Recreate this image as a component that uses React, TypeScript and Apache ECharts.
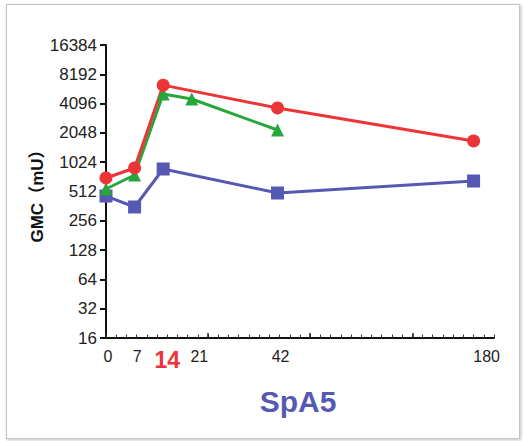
import React, { useEffect, useRef } from "react";
import * as echarts from "echarts";

const xTickLabels = [0, 7, 14, 21, 42, 180];
const yTickLabels = [16, 32, 64, 128, 256, 512, 1024, 2048, 4096, 8192, 16384];

const blueData: [number, number][] = [[0, 460], [7, 355], [14, 872], [42, 494], [180, 656]];
const redData: [number, number][] = [[0, 705], [7, 893], [14, 6340], [42, 3692], [180, 1692]];
const greenData: [number, number][] = [[0, 543], [7, 756], [14, 5141], [21, 4567], [42, 2193]];

const RED = "#ec3439";
const GREEN = "#27a63b";
const BLUE = "#5659b3";
const FONT = "Liberation Sans, Arial, sans-serif";

const BREAK_START = 60;
const BREAK_END = 150;
const X_MAX = 185;

// horizontal nudges of tick labels (px), as in the reference
const labelShift: Record<number, number> = { 0: 2, 7: 2.5, 14: 4, 21: 7.5, 42: 3, 180: 13 };

function effToReal(e: number) {
  return e <= BREAK_START ? e : e + (BREAK_END - BREAK_START);
}
const minorTicks: number[] = [];
for (let e = 0; e <= X_MAX - (BREAK_END - BREAK_START) + 0.01; e += 2.5) minorTicks.push(effToReal(e));
const majorTicks = [25, 50, effToReal(75)];

const rich: Record<string, any> = {};
xTickLabels.forEach((v) => {
  const s = labelShift[v] || 0;
  rich["l" + v] =
    v === 14
      ? { color: RED, fontWeight: "bold", fontSize: 23, fontFamily: FONT, padding: [0, 0, 0, s * 2] }
      : { color: "#222", fontSize: 16, fontFamily: FONT, padding: [0, 0, 0, s * 2] };
});

export default function App() {
  const ref = useRef<HTMLDivElement>(null);
  useEffect(() => {
    if (!ref.current) return;
    const chart = echarts.init(ref.current, null, { renderer: "svg" });
    const breaks = [{ start: BREAK_START, end: BREAK_END, gap: 0 }];
    const baseX = {
      type: "value",
      min: 0,
      max: X_MAX,
      breaks,
      breakArea: { show: false },
      splitLine: { show: false },
    };
    chart.setOption({
      animation: false,
      textStyle: { fontFamily: FONT },
      grid: { left: 106, right: 30, top: 45, bottom: 103, containLabel: false },
      xAxis: [
        {
          ...baseX,
          axisLine: { show: true, onZero: false, lineStyle: { color: "#111", width: 2 } },
          axisTick: { show: true, inside: true, length: 3.5, customValues: minorTicks, lineStyle: { color: "#333", width: 1 } },
          axisLabel: {
            show: true,
            customValues: xTickLabels,
            margin: 10,
            formatter: (v: number) => "{l" + v + "|" + v + "}",
            rich,
          },
        },
        {
          ...baseX,
          position: "bottom",
          axisLine: { show: false },
          axisTick: { show: true, inside: true, length: 5, customValues: majorTicks, lineStyle: { color: "#222", width: 1.5 } },
          axisLabel: { show: false },
        },
      ],
      yAxis: {
        type: "log",
        logBase: 2,
        min: 16,
        max: 16384,
        axisLine: { show: true, lineStyle: { color: "#111", width: 2 } },
        axisTick: { show: true, length: 6, customValues: yTickLabels, lineStyle: { color: "#111", width: 2 } },
        axisLabel: {
          customValues: yTickLabels,
          formatter: (v: number) => String(v),
          color: "#222",
          fontSize: 17,
          margin: 9,
          fontFamily: FONT,
        },
        splitLine: { show: false },
      },
      graphic: [
        {
          type: "text",
          x: 37,
          y: 192,
          rotation: Math.PI / 2,
          style: {
            text: "GMC（mU）",
            fontSize: 17,
            fontWeight: "bold",
            fill: "#111",
            align: "center",
            verticalAlign: "middle",
            fontFamily: "Liberation Sans, Arial, 'Noto Sans CJK SC', sans-serif",
          },
        },
        {
          type: "text",
          x: 298,
          y: 401,
          style: {
            text: "SpA5",
            fontSize: 30,
            fontWeight: "bold",
            fill: BLUE,
            align: "center",
            verticalAlign: "middle",
            fontFamily: FONT,
          },
        },
      ],
      series: [
        {
          name: "blue",
          type: "line",
          data: blueData,
          symbol: "rect",
          symbolSize: 13,
          lineStyle: { color: BLUE, width: 3 },
          itemStyle: { color: BLUE },
        },
        {
          name: "green",
          type: "line",
          data: greenData,
          symbol: "triangle",
          symbolSize: 13,
          lineStyle: { color: GREEN, width: 3 },
          itemStyle: { color: GREEN },
        },
        {
          name: "red",
          type: "line",
          data: redData,
          symbol: "circle",
          symbolSize: 13,
          lineStyle: { color: RED, width: 3 },
          itemStyle: { color: RED },
        },
      ],
    });
    return () => chart.dispose();
  }, []);
  return (
    <div style={{ position: "fixed", left: 0, top: 0, width: 524, height: 441, background: "#fff" }}>
      <div
        style={{
          position: "absolute",
          left: 6,
          top: 4,
          width: 512,
          height: 433,
          border: "1.5px solid #c4c4c4",
          boxShadow: "1px 1px 3px rgba(0,0,0,0.25)",
          background: "#fff",
        }}
      />
      <div ref={ref} style={{ position: "absolute", left: 0, top: 0, width: 524, height: 441 }} />
    </div>
  );
}
